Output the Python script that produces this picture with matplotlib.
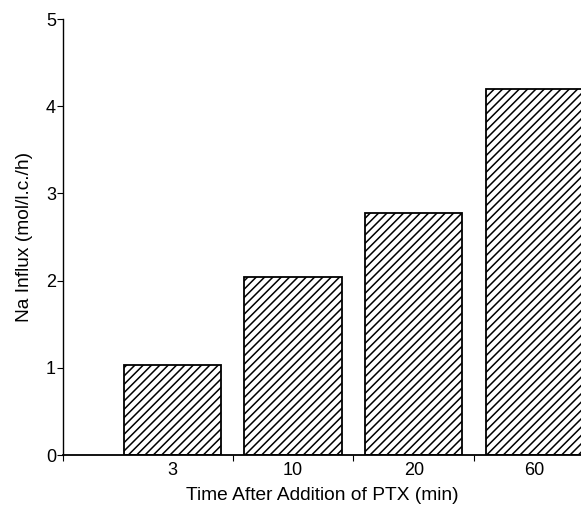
import numpy as np
import matplotlib.pyplot as plt

plt.rcParams['font.family'] = ['Liberation Sans', 'DejaVu Sans']
plt.rcParams['hatch.linewidth'] = 1.1

times = ['3', '10', '20', '60']
na_influx = [1.03, 2.04, 2.77, 4.2]

fig = plt.figure(figsize=(5.81, 5.05), dpi=100)
ax = fig.add_axes([63 / 581, 1 - 455 / 505, 1 - 63 / 581, (455 - 19) / 505])

x = np.arange(len(times))
ax.bar(x, na_influx, width=0.806, color='white', edgecolor='black',
       linewidth=1.3, hatch='////')

ax.set_xlim(-0.906, 3.385)
ax.set_ylim(0, 5)

for s in ['top', 'right']:
    ax.spines[s].set_visible(False)
ax.spines['left'].set_linewidth(1.0)
ax.spines['bottom'].set_linewidth(1.3)

ax.set_yticks(range(6))
ax.tick_params(axis='y', length=4, width=0.8, pad=1, labelsize=13)
ax.set_xticks(x)
ax.set_xticklabels(times)
ax.tick_params(axis='x', which='major', length=0, pad=5, labelsize=13)
ax.set_xticks([-0.906, 0.5, 1.5, 2.5], minor=True)
ax.tick_params(axis='x', which='minor', length=4, width=0.8)

ax.set_xlabel('Time After Addition of PTX (min)', fontsize=13.8, labelpad=6)
ax.set_ylabel('Na Influx (mol/l.c./h)', fontsize=13.8, labelpad=9)

fig.savefig('out.png', dpi=100)
